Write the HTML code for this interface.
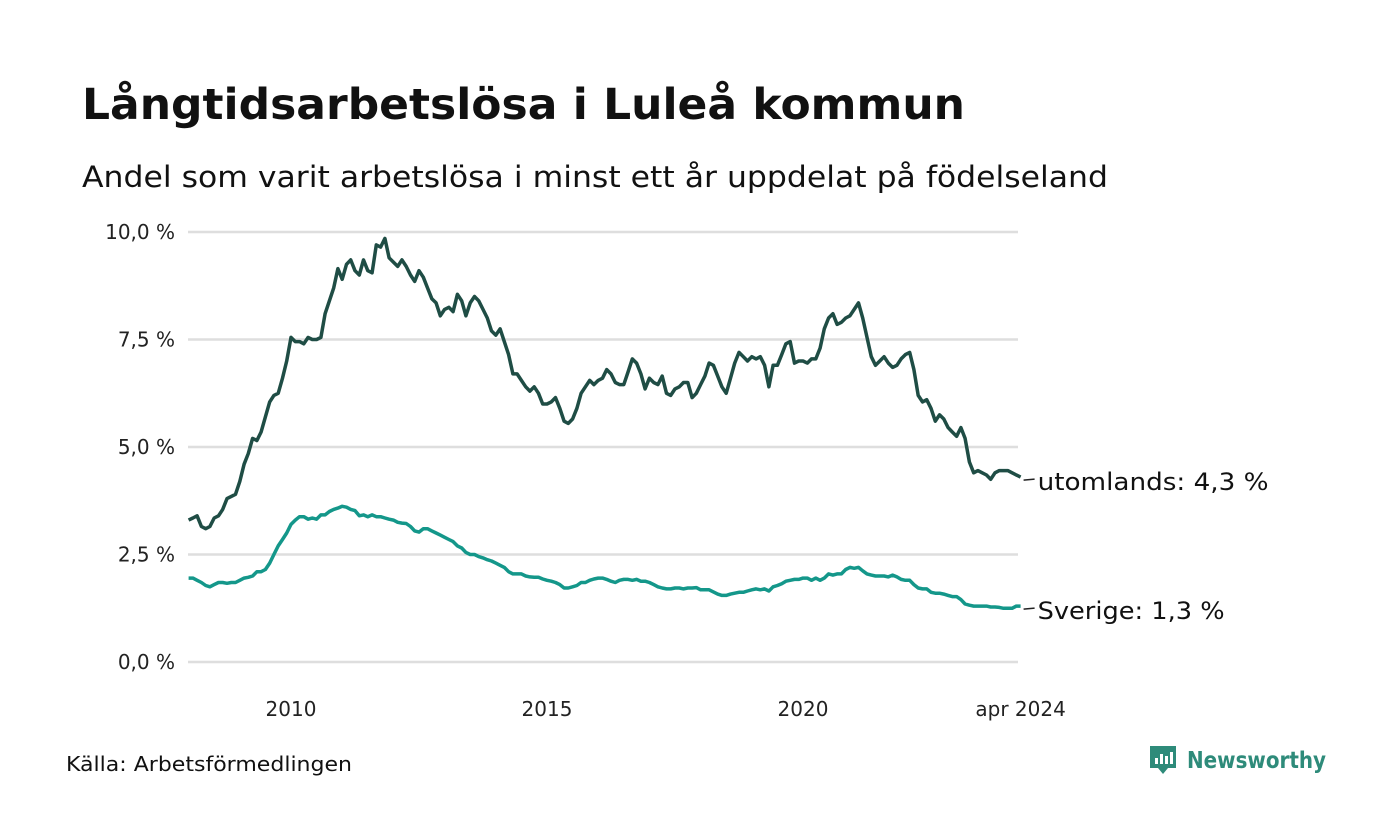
<!DOCTYPE html>
<html><head><meta charset="utf-8"><style>
body{margin:0;background:#fff;width:1400px;height:840px;overflow:hidden;font-family:"DejaVu Sans","Liberation Sans",sans-serif;color:#111}
svg{position:absolute;left:0;top:0}
</style></head><body>
<svg width="1400" height="840">
<text x="82" y="119" font-size="43" font-weight="bold" fill="#111" textLength="883" lengthAdjust="spacingAndGlyphs">Långtidsarbetslösa i Luleå kommun</text>
<text x="82" y="187" font-size="29" fill="#111" textLength="1026" lengthAdjust="spacingAndGlyphs">Andel som varit arbetslösa i minst ett år uppdelat på födelseland</text>
<g id="grid"></g><g id="xt"></g><g id="lines"></g>
<text x="66" y="771" font-size="20" fill="#111" textLength="286" lengthAdjust="spacingAndGlyphs">Källa: Arbetsförmedlingen</text>
<g>
<path d="M1150 746h26v22h-8l-5 6-5-6h-8z" fill="#2e8b7a"/>
<rect x="1155" y="758" width="3" height="6" fill="#fff"/><rect x="1160" y="754" width="3" height="10" fill="#fff"/><rect x="1165" y="756" width="3" height="8" fill="#fff"/><rect x="1170" y="752" width="3" height="12" fill="#fff"/>
<text x="1187" y="768" font-size="23" font-weight="bold" fill="#2e8b7a" textLength="139" lengthAdjust="spacingAndGlyphs">Newsworthy</text>
</g>
</svg>
<script>
const foreign=[3.3,3.35,3.4,3.15,3.1,3.15,3.35,3.4,3.55,3.8,3.85,3.9,
4.2,4.6,4.85,5.2,5.15,5.35,5.7,6.05,6.2,6.25,6.6,7.0,
7.55,7.45,7.45,7.4,7.55,7.5,7.5,7.55,8.1,8.4,8.7,9.15,
8.9,9.25,9.35,9.1,9.0,9.35,9.1,9.05,9.7,9.65,9.85,9.4,
9.3,9.2,9.35,9.2,9.0,8.85,9.1,8.95,8.7,8.45,8.35,8.05,
8.2,8.25,8.15,8.55,8.4,8.05,8.35,8.5,8.4,8.2,8.0,7.7,
7.6,7.75,7.45,7.15,6.7,6.7,6.55,6.4,6.3,6.4,6.25,6.0,
6.0,6.05,6.15,5.9,5.6,5.55,5.65,5.9,6.25,6.4,6.55,6.45,
6.55,6.6,6.8,6.7,6.5,6.45,6.45,6.75,7.05,6.95,6.7,6.35,
6.6,6.5,6.45,6.65,6.25,6.2,6.35,6.4,6.5,6.5,6.15,6.25,
6.45,6.65,6.95,6.9,6.65,6.4,6.25,6.6,6.95,7.2,7.1,7.0,
7.1,7.05,7.1,6.9,6.4,6.9,6.9,7.15,7.4,7.45,6.95,7.0,
7.0,6.95,7.05,7.05,7.3,7.75,8.0,8.1,7.85,7.9,8.0,8.05,
8.2,8.35,8.0,7.55,7.1,6.9,7.0,7.1,6.95,6.85,6.9,7.05,
7.15,7.2,6.8,6.2,6.05,6.1,5.9,5.6,5.75,5.65,5.45,5.35,
5.25,5.45,5.2,4.65,4.4,4.45,4.4,4.35,4.25,4.4,4.45,4.45,
4.45,4.4,4.35,4.3];
const sweden=[1.95,1.95,1.9,1.85,1.78,1.75,1.8,1.85,1.85,1.83,1.85,1.85,
1.9,1.95,1.97,2.0,2.1,2.1,2.15,2.3,2.5,2.7,2.85,3.0,
3.2,3.3,3.38,3.38,3.32,3.35,3.32,3.42,3.42,3.5,3.55,3.58,
3.62,3.6,3.55,3.52,3.4,3.42,3.38,3.42,3.38,3.38,3.35,3.32,
3.3,3.25,3.23,3.22,3.15,3.05,3.02,3.1,3.1,3.05,3.0,2.95,
2.9,2.85,2.8,2.7,2.65,2.55,2.5,2.5,2.45,2.42,2.38,2.35,
2.3,2.25,2.2,2.1,2.05,2.05,2.05,2.0,1.98,1.97,1.97,1.93,
1.9,1.88,1.85,1.8,1.72,1.72,1.75,1.78,1.85,1.85,1.9,1.93,
1.95,1.95,1.92,1.88,1.85,1.9,1.92,1.92,1.9,1.92,1.88,1.88,
1.85,1.8,1.75,1.72,1.7,1.7,1.72,1.72,1.7,1.72,1.72,1.73,
1.68,1.68,1.68,1.63,1.58,1.55,1.55,1.58,1.6,1.62,1.62,1.65,
1.68,1.7,1.68,1.7,1.65,1.75,1.78,1.82,1.88,1.9,1.92,1.92,
1.95,1.95,1.9,1.95,1.9,1.95,2.05,2.02,2.05,2.05,2.15,2.2,
2.18,2.2,2.12,2.05,2.02,2.0,2.0,2.0,1.98,2.02,1.98,1.92,
1.9,1.9,1.8,1.72,1.7,1.7,1.62,1.6,1.6,1.58,1.55,1.52,
1.52,1.45,1.35,1.32,1.3,1.3,1.3,1.3,1.28,1.28,1.27,1.25,
1.25,1.25,1.3,1.3];
const yTicks=[0,2.5,5,7.5,10];
const yTickLabels=["0,0 %","2,5 %","5,0 %","7,5 %","10,0 %"];
const xTicks=[2010,2015,2020,2024.25];
const xTickLabels=["2010","2015","2020","apr 2024"];
const seriesNames=["utomlands: 4,3 %","Sverige: 1,3 %"];
const startYear=2008;
const NS="http://www.w3.org/2000/svg";
const X=t=>291+(t-2010)*51.2;
const Y=v=>662-v*43;
const tOf=i=>startYear+i/12;
function mk(tag,attrs,parent,txt){const e=document.createElementNS(NS,tag);for(const k in attrs)e.setAttribute(k,attrs[k]);if(txt!=null)e.textContent=txt;parent.appendChild(e);return e;}
const grid=document.getElementById('grid');
yTicks.forEach((v,i)=>{
  const l=mk('line',{x1:188,x2:1018,y1:Y(v),y2:Y(v),stroke:'#dedede','stroke-width':2.5},grid);
  
  
  const t=mk('text',{x:175,y:Y(v)+7,'text-anchor':'end','font-size':20,fill:'#222'},grid,yTickLabels[i]);
  
  
});
const xt=document.getElementById('xt');
xTicks.forEach((v,i)=>{
  const t=mk('text',{x:X(v),y:716,'text-anchor':'middle','font-size':20,fill:'#222'},xt,xTickLabels[i]);
  
  
});
const lines=document.getElementById('lines');
const labelW=[231,187];
[[foreign,'#1f4d45'],[sweden,'#14978a']].forEach(([d,c],k)=>{
  const pts=d.map((v,i)=>X(tOf(i)).toFixed(1)+','+Y(v).toFixed(1)).join(' ');
  const p=mk('polyline',{points:pts,fill:'none',stroke:c,'stroke-width':3.5,'stroke-linejoin':'round'},lines);
  
  
  const ly=Y(d[d.length-1]),lx=X(tOf(d.length-1));
  const dl=mk('line',{x1:lx+3,x2:lx+14,y1:ly+3,y2:ly+2,stroke:'#222','stroke-width':1.5},lines);
  
  
  const t=mk('text',{x:lx+17,y:ly+13,'font-size':24,fill:'#111',textLength:labelW[k],lengthAdjust:'spacingAndGlyphs'},lines,seriesNames[k]);
  
  
});
</script>
</body></html>
